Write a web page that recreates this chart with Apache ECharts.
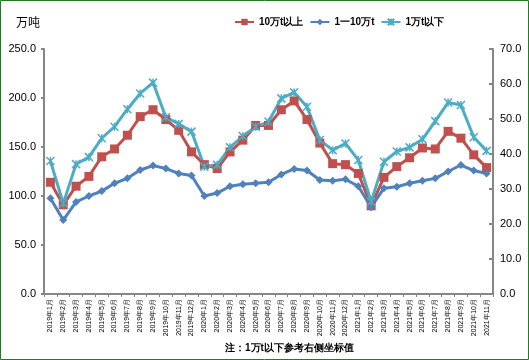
<!DOCTYPE html>
<html><head><meta charset="utf-8">
<script src="https://cdn.jsdelivr.net/npm/echarts@6/dist/echarts.min.js"></script>
<style>html,body{margin:0;padding:0;background:#fff}#c{width:529px;height:360px}</style>
</head><body><div id="c"></div>
<script>
const categories = (function(){const a=[];const ys=[2019,2020,2021];for(const y of ys){for(let m=1;m<=12;m++){a.push(y+'年'+m+'月');}}return a.slice(0,35);})();
const seriesNames = ['10万t以上','1一10万t','1万t以下'];
const large = [114,91,110,120,140,148,162,181,188,178,167,145,132,128,145,157,172,172,188,197,178,154,133,132,123,90,119,130,139,149,148,166,159,142,129];
const medium = [97.6,75.5,94,100,105,113,118,126.5,131,128,123,121,100,103,110,112,113,114,122,127.6,126,116.3,115.6,117,110,88.5,108,109.5,113,115.6,118,125,131.6,126,123];
const small = [38.0,25.9,37.1,39.1,44.5,47.8,52.8,57.3,60.4,50.5,48.6,46.4,36.4,36.9,41.9,45.1,47.8,49.2,55.9,57.6,53.5,44,41.1,43,38.3,26.4,37.8,40.7,41.9,44.2,49.4,54.7,54,44.8,40.9];
const leftTicks = {min:0,max:250,interval:50};
const rightTicks = {min:0,max:70,interval:10};

const chart = echarts.init(document.getElementById('c'));
const font = 'Liberation Sans, Arial, sans-serif';
const axisLineStyle = {color:'#868686', width:2};
chart.setOption({
  animation:false,
  backgroundColor:'#fff',
  textStyle:{fontFamily:font},
  legend:{
    top:12, left:229, itemGap:6, itemWidth:19, itemHeight:8,
    textStyle:{fontSize:10, fontWeight:'bold', color:'#000', fontFamily:font},
    data:seriesNames
  },
  grid:{left:44, right:36, top:49, bottom:66},
  xAxis:{
    type:'category', data:categories, boundaryGap:true,
    axisLine:{lineStyle:axisLineStyle},
    axisTick:{show:true, length:3, lineStyle:{color:'#868686'}},
    axisLabel:{rotate:90, fontSize:7, color:'#000', interval:0, margin:5, fontFamily:font}
  },
  yAxis:[
    {type:'value', min:leftTicks.min, max:leftTicks.max, interval:leftTicks.interval,
     splitLine:{show:false},
     axisLine:{show:true, lineStyle:axisLineStyle},
     axisTick:{show:true, inside:false, length:3, lineStyle:{color:'#868686', width:2}},
     axisLabel:{formatter:v=>v.toFixed(1), fontSize:11, color:'#000', margin:8, fontFamily:font}},
    {type:'value', min:rightTicks.min, max:rightTicks.max, interval:rightTicks.interval,
     splitLine:{show:false},
     axisLine:{show:true, lineStyle:axisLineStyle},
     axisTick:{show:true, inside:true, length:4, lineStyle:{color:'#868686', width:2}},
     axisLabel:{formatter:v=>v.toFixed(1), fontSize:11, color:'#000', margin:7, fontFamily:font}}
  ],
  series:[
    {name:seriesNames[0], type:'line', yAxisIndex:0, data:large, symbol:'rect', symbolSize:9,
     lineStyle:{color:'#C0504D', width:3}, itemStyle:{color:'#C0504D'}},
    {name:seriesNames[1], type:'line', yAxisIndex:0, data:medium, symbol:'diamond', symbolSize:8,
     lineStyle:{color:'#4F81BD', width:3}, itemStyle:{color:'#4F81BD'}},
    {name:seriesNames[2], type:'line', yAxisIndex:1, data:small,
     symbol:'path://M0,0L10,10M10,0L0,10M5,0L5,10', symbolSize:8,
     lineStyle:{color:'#4BACC6', width:3},
     itemStyle:{color:'rgba(0,0,0,0)', borderColor:'#4BACC6', borderWidth:1.5}}
  ],
  graphic:[
    {type:'rect', shape:{x:0.5,y:0.5,width:528,height:359}, style:{fill:'none', stroke:'#1E7B1E', lineWidth:1}, silent:true},
    {type:'text', left:16, top:16, style:{text:'万吨', fontSize:12, fill:'#000', fontFamily:'Noto Sans CJK SC'}},
    {type:'text', left:225, top:343, style:{text:'注：1万t以下参考右侧坐标值', fontSize:10, fontWeight:'bold', fill:'#000', fontFamily:font}}
  ]
});
</script></body></html>
